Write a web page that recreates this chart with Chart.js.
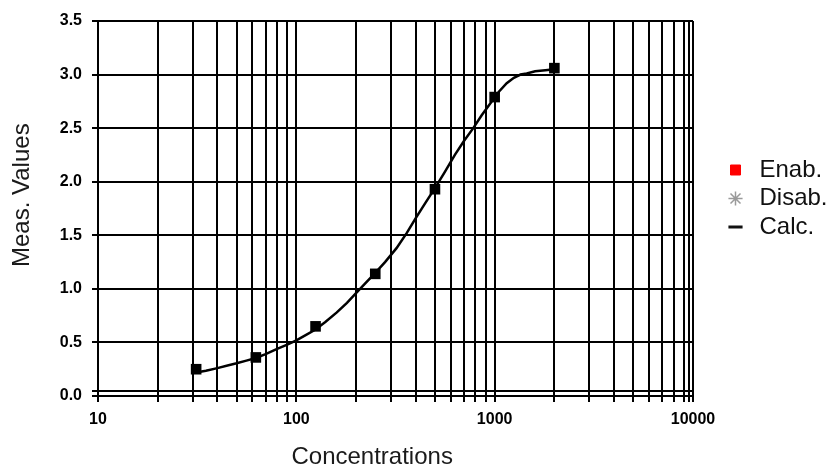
<!DOCTYPE html>
<html><head><meta charset="utf-8">
<script src="https://cdn.jsdelivr.net/npm/chart.js@4.4.1/dist/chart.umd.min.js"></script>
<style>html,body{margin:0;padding:0;background:#fff;}#wrap{width:834px;height:469px;}</style>
</head><body>
<div id="wrap"><canvas id="c" width="834" height="469"></canvas></div>
<script>
// measured (enabled) points
const measConc = [31.25, 62.5, 125, 250, 500, 1000, 2000];
const measValues = [0.25, 0.36, 0.65, 1.14, 1.93, 2.79, 3.06];
// calculated curve
const curveConc = [31.25, 35, 40, 45, 50, 56, 62.5, 70, 80, 90, 100, 112, 125, 140, 160, 180, 200, 225, 250, 280, 320, 360, 400, 450, 500, 560, 630, 700, 780, 860, 950, 1050, 1150, 1250, 1350, 1450, 1600, 1800, 2000];
const curveValues = [0.22, 0.235, 0.26, 0.285, 0.305, 0.33, 0.355, 0.39, 0.44, 0.48, 0.52, 0.57, 0.62, 0.69, 0.78, 0.87, 0.96, 1.06, 1.15, 1.25, 1.38, 1.52, 1.66, 1.81, 1.94, 2.09, 2.25, 2.38, 2.50, 2.62, 2.73, 2.84, 2.92, 2.97, 3.00, 3.01, 3.03, 3.04, 3.05];
// grid / tick values
const xGridValues = [10,20,30,40,50,60,70,80,90,100,200,300,400,500,600,700,800,900,1000,2000,3000,4000,5000,6000,7000,8000,9000,9500,10000];
const xTickLabels = ['10','100','1000','10000'];
const yGridValues = [0,0.045,0.5,1.0,1.5,2.0,2.5,3.0,3.5];
const yTickLabels = ['0.0','0.5','1.0','1.5','2.0','2.5','3.0','3.5'];
const legendLabels = ['Enab.','Disab.','Calc.'];
const disabConc = [];
const disabValues = [];

const yLabelNums = yTickLabels.map(Number);
const toPts = (xs, ys) => xs.map((x, i) => ({x: x, y: ys[i]}));
const legendStyle = [
  {pointStyle: 'rect', fillStyle: '#ff0000', strokeStyle: '#ff0000', lineWidth: 1},
  {pointStyle: 'star', fillStyle: '#999999', strokeStyle: '#9a9a9a', lineWidth: 1.5},
  {pointStyle: 'line', fillStyle: '#000000', strokeStyle: '#111111', lineWidth: 3}
];

new Chart(document.getElementById('c'), {
  type: 'scatter',
  data: {
    datasets: [
      {label: legendLabels[0], data: toPts(measConc, measValues), showLine: false,
       pointStyle: 'rect', pointRadius: 7.5, pointHoverRadius: 7.5,
       backgroundColor: '#000', borderColor: '#000', borderWidth: 0},
      {label: legendLabels[1], data: toPts(disabConc, disabValues), showLine: false,
       pointStyle: 'star', pointRadius: 6, borderColor: '#999', backgroundColor: '#999'},
      {label: legendLabels[2], data: toPts(curveConc, curveValues), showLine: true,
       borderColor: '#000', borderWidth: 2.5, pointRadius: 0, pointHoverRadius: 0, tension: 0, fill: false}
    ]
  },
  options: {
    responsive: false,
    animation: false,
    devicePixelRatio: 1,
    layout: {padding: {top: 21, right: 0, bottom: 0, left: 0}},
    plugins: {
      tooltip: {enabled: false},
      legend: {
        position: 'right',
        align: 'start',
        maxWidth: 115,
        onClick: null,
        title: {display: true, text: '', font: {size: 10}, padding: {top: 0, bottom: 120.5}},
        labels: {
          usePointStyle: true,
          boxWidth: 24,
          boxHeight: 10,
          padding: 4.5,
          color: '#111',
          font: {family: '"Liberation Sans", Arial, sans-serif', size: 24},
          generateLabels: () => legendLabels.map((t, i) => Object.assign({text: t, hidden: false, datasetIndex: i, fontColor: '#111'}, legendStyle[i]))
        }
      }
    },
    scales: {
      x: {
        type: 'logarithmic',
        position: 'bottom',
        min: 10, max: 10000,
        afterBuildTicks: s => { s.ticks = xGridValues.map(v => ({value: v})); },
        afterFit: s => { s.height = 73; },
        grid: {color: '#000', lineWidth: 2, tickLength: 6, tickColor: '#000', tickWidth: 2},
        border: {display: true, color: '#000', width: 2},
        ticks: {
          autoSkip: false, maxRotation: 0, minRotation: 0, padding: 8, color: '#000',
          font: {family: '"Liberation Sans", Arial, sans-serif', size: 16, weight: 'bold'},
          callback: v => { const s = String(v); return xTickLabels.includes(s) ? s : ''; }
        },
        title: {display: true, text: 'Concentrations       ', color: '#1a1a1a',
          font: {family: '"Liberation Sans", Arial, sans-serif', size: 24, lineHeight: 1.0},
          padding: {top: 0, bottom: 0}}
      },
      y: {
        type: 'linear',
        position: 'left',
        min: 0, max: 3.5,
        afterBuildTicks: s => { s.ticks = yGridValues.map(v => ({value: v})); },
        afterFit: s => { s.width = 98; },
        grid: {color: '#000', lineWidth: 2, tickLength: 6, tickColor: '#000', tickWidth: 2},
        border: {display: true, color: '#000', width: 2},
        ticks: {
          autoSkip: false, padding: 10, color: '#000',
          font: {family: '"Liberation Sans", Arial, sans-serif', size: 16, weight: 'bold'},
          callback: v => { const i = yLabelNums.indexOf(v); return i >= 0 ? yTickLabels[i] : ''; }
        },
        title: {display: true, text: '    Meas. Values', color: '#1a1a1a',
          font: {family: '"Liberation Sans", Arial, sans-serif', size: 24},
          padding: {top: 8, bottom: 0}}
      },
      yR: {
        type: 'linear',
        position: 'right',
        min: 0, max: 3.5,
        display: true,
        afterFit: s => { s.width = 26; },
        grid: {display: false, drawOnChartArea: false},
        border: {display: false},
        ticks: {display: false}
      }
    }
  }
});
</script>
</body></html>
